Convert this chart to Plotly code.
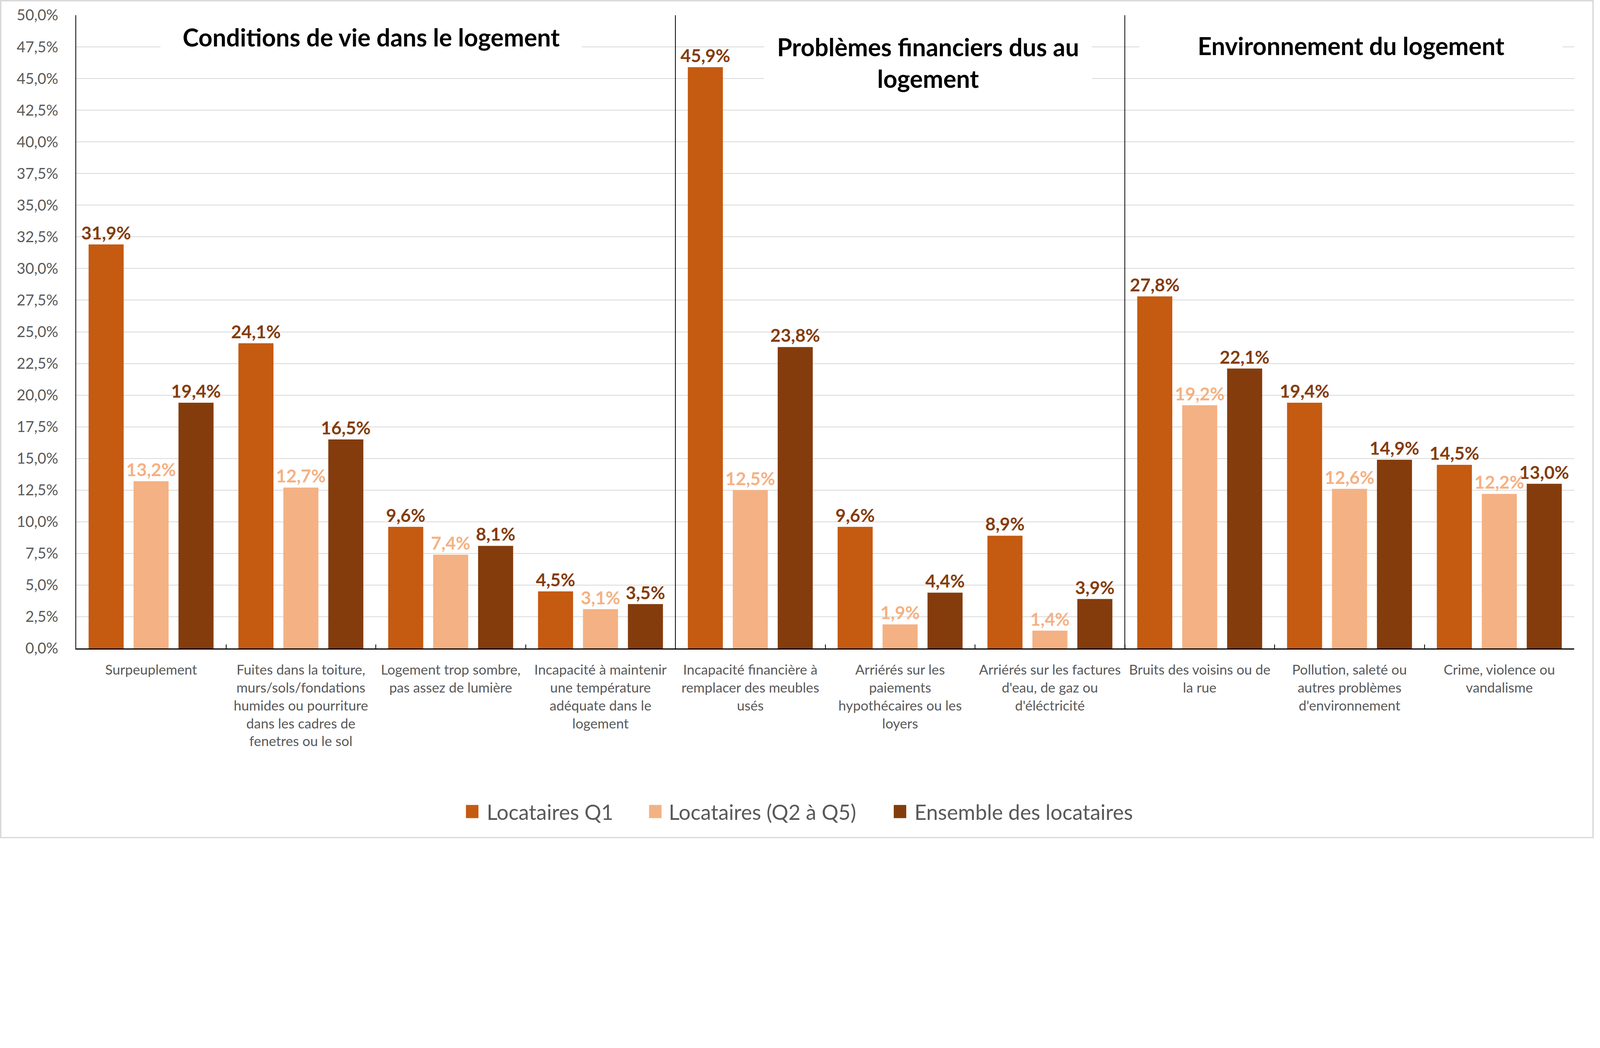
import plotly.graph_objects as go

categories = [
    "Surpeuplement",
    "Fuites dans la toiture,<br>murs/sols/fondations<br>humides ou pourriture<br>dans les cadres de<br>fenetres ou le sol",
    "Logement trop sombre,<br>pas assez de lumière",
    "Incapacité à maintenir<br>une température<br>adéquate dans le<br>logement",
    "Incapacité financière à<br>remplacer des meubles<br>usés",
    "Arriérés sur les<br>paiements<br>hypothécaires ou les<br>loyers",
    "Arriérés sur les factures<br>d'eau, de gaz ou<br>d'éléctricité",
    "Bruits des voisins ou de<br>la rue",
    "Pollution, saleté ou<br>autres problèmes<br>d'environnement",
    "Crime, violence ou<br>vandalisme",
]

series_names = ["Locataires Q1", "Locataires (Q2 à Q5)", "Ensemble des locataires"]
q1_values = [31.9, 24.1, 9.6, 4.5, 45.9, 9.6, 8.9, 27.8, 19.4, 14.5]
q2q5_values = [13.2, 12.7, 7.4, 3.1, 12.5, 1.9, 1.4, 19.2, 12.6, 12.2]
ensemble_values = [19.4, 16.5, 8.1, 3.5, 23.8, 4.4, 3.9, 22.1, 14.9, 13.0]

section_titles = ["Conditions de vie dans le logement",
                  "Problèmes financiers dus au<br>logement",
                  "Environnement du logement"]

tick_values = [i * 2.5 for i in range(21)]
tick_labels = [f"{v:.1f}".replace(".", ",") + "%" for v in tick_values]

bar_colors = ["#C55A11", "#F4B183", "#843C0C"]
label_colors = ["#843C0C", "#F4B183", "#843C0C"]

FONT = "Lato, 'Open Sans', sans-serif"

# the browser renders at device scale 1.25: design in reference pixels, scale to CSS px
S = 0.8
W_REF, H_REF = 5100, 2683
L_REF, R_REF, T_REF = 244, 63, 49
W, H = round(W_REF * S), round(H_REF * S)
L, R, T = round(L_REF * S), round(R_REF * S), round(T_REF * S)
B = H - T - round((2075 - 49) * S)
PW = W - L - R
PH = H - T - B


def s(v):
    return v * S


def fmt(v):
    return f"{v:.1f}".replace(".", ",") + "%"


def xp(px_ref):
    return (px_ref * S - L) / PW


def yp(py_ref):
    return 1 - (py_ref * S - T) / PH


fig = go.Figure()
for name, vals, col, lcol in zip(series_names,
                                 [q1_values, q2q5_values, ensemble_values],
                                 bar_colors, label_colors):
    fig.add_trace(go.Bar(
        name=name, x=categories, y=vals,
        marker=dict(color=col, line=dict(width=0)),
        text=[fmt(v) for v in vals],
        textposition="outside",
        constraintext="none",
        textfont=dict(family=FONT, size=s(57), color=lcol, weight="bold"),
        cliponaxis=False,
        showlegend=False,
        hoverinfo="skip",
    ))

# section separator lines
for frac in (0.4, 0.7):
    fig.add_shape(type="line", xref="paper", yref="paper",
                  x0=frac, x1=frac, y0=0, y1=1,
                  line=dict(color="black", width=s(2.5)), layer="above")

# figure border
fig.add_shape(type="rect", xref="paper", yref="paper",
              x0=xp(2), x1=xp(W_REF - 2), y0=yp(H_REF - 2), y1=yp(2),
              line=dict(color="#D9D9D9", width=s(5)), fillcolor="rgba(0,0,0,0)")

# section titles (white boxes hiding gridlines)
title_specs = [
    (1187, 117, 1348, 130),
    (2970, 200, 1047, 260),
    (4323, 145, 1354, 150),
]
for text, (cx, cy, bw, bh) in zip(section_titles, title_specs):
    fig.add_annotation(
        text=f"<b>{text}</b>", xref="paper", yref="paper",
        x=xp(cx), y=yp(cy), xanchor="center", yanchor="middle",
        width=s(bw), height=s(bh), showarrow=False, bgcolor="white", borderpad=0,
        font=dict(family=FONT, size=s(78), color="black"),
    )

# arrow at the top of the y axis
fig.add_annotation(
    xref="paper", yref="y", x=0, y=50.2, ax=0, ay=s(45),
    text="", showarrow=True, arrowhead=2, arrowsize=1.4, arrowwidth=s(3),
    arrowcolor="black",
)

# legend (drawn so the swatches match the reference size)
legend_specs = [(1491, 1555), (2077, 2137), (2860, 2924)]
legend_y = 2597
for name, col, (sx, tx) in zip(series_names, bar_colors, legend_specs):
    fig.add_shape(type="rect", xref="paper", yref="paper",
                  x0=xp(sx), x1=xp(sx + 40), y0=yp(legend_y + 21), y1=yp(legend_y - 21),
                  line=dict(width=0), fillcolor=col)
    fig.add_annotation(
        text=name, xref="paper", yref="paper", x=xp(tx), y=yp(legend_y),
        xanchor="left", yanchor="middle", showarrow=False,
        font=dict(family=FONT, size=s(67), color="#595959"),
    )

fig.update_layout(
    width=W, height=H,
    margin=dict(l=L, r=R, t=T, b=B, autoexpand=False),
    paper_bgcolor="white", plot_bgcolor="white",
    barmode="group", bargap=0.10, bargroupgap=0.22,
    showlegend=False,
    font=dict(family=FONT, color="#595959"),
    hovermode=False,
)
fig.update_xaxes(
    type="category", showgrid=False, showline=True, linecolor="black", linewidth=s(4),
    ticks="inside", tickson="boundaries", ticklen=s(13), tickwidth=s(2), tickcolor="black",
    tickfont=dict(family=FONT, size=s(44), color="#595959"), ticklabelstandoff=round(s(28)),
    zeroline=False, fixedrange=True,
)
fig.update_yaxes(
    range=[0, 50], tickvals=tick_values, ticktext=tick_labels,
    showgrid=True, gridcolor="#D9D9D9", gridwidth=s(3),
    showline=True, linecolor="black", linewidth=s(3), ticks="",
    tickfont=dict(family=FONT, size=s(48), color="#595959"), ticklabelstandoff=round(s(45)),
    zeroline=False, fixedrange=True,
)
fig.write_html("out.html", config={"displayModeBar": False},
               post_script="document.body.style.margin='0';")
